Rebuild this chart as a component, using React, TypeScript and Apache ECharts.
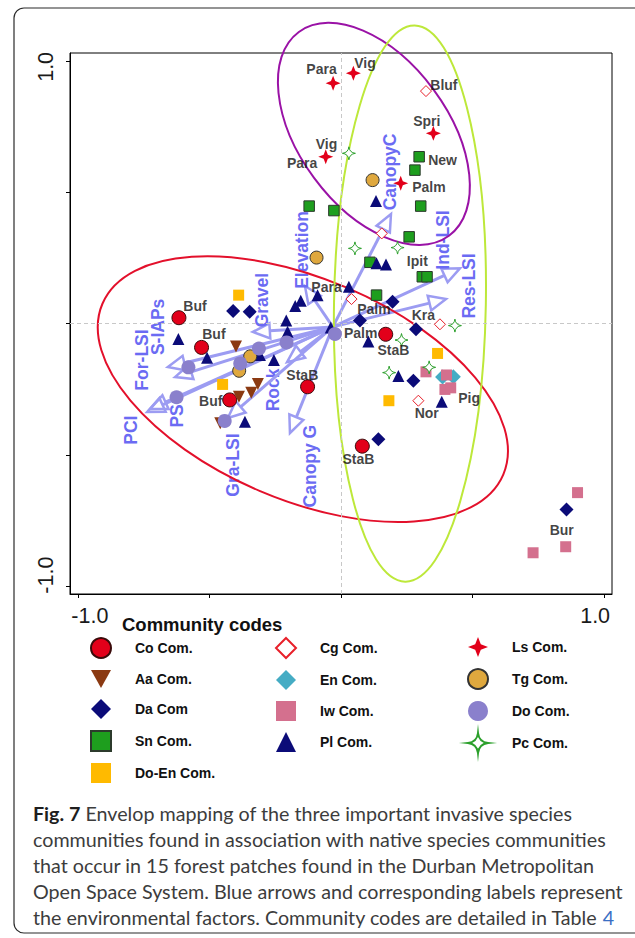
import React, { useEffect, useRef } from "react";
import * as echarts from "echarts";

// ---- Community sample scores (axis 1, axis 2) ----
const coCom = [[-0.616, 0.022], [-0.53, -0.091], [-0.423, -0.291], [-0.127, -0.241], [0.17, -0.041], [0.081, -0.467]];
const aaCom = [[-0.399, -0.088], [-0.316, -0.23], [-0.341, -0.264], [-0.388, -0.279], [-0.459, -0.38]];
const daCom = [[-0.41, 0.048], [-0.347, 0.045], [0.196, 0.083], [0.072, 0.011], [0.285, -0.022], [0.275, -0.218], [0.142, -0.441], [0.857, -0.708]];
const snCom = [[-0.121, 0.447], [-0.027, 0.43], [0.297, 0.635], [0.281, 0.584], [0.303, 0.447], [0.259, 0.33], [0.11, 0.233], [0.309, 0.178], [0.327, 0.178], [0.135, 0.108]];
const doEnCom = [[-0.389, 0.108], [-0.45, -0.232], [0.367, -0.114], [0.182, -0.294]];
const cgCom = [[0.323, 0.885], [0.155, 0.343], [0.04, 0.093], [0.376, -0.003], [0.294, -0.294]];
const enCom = [[0.386, -0.204], [0.427, -0.203]];
const iwCom = [[0.323, -0.184], [0.401, -0.196], [0.395, -0.251], [0.417, -0.245], [0.899, -0.644], [0.854, -0.85], [0.73, -0.873]];
const plCom = [[-0.618, -0.059], [-0.509, -0.13], [-0.308, -0.12], [-0.255, -0.139], [-0.208, 0.011], [-0.203, -0.031], [-0.153, 0.087], [-0.174, 0.067], [-0.089, 0.108], [-0.039, -0.015], [0.03, 0.14], [0.133, 0.466], [0.135, 0.229], [0.171, 0.225], [0.104, -0.069], [0.218, -0.2], [0.383, -0.298], [-0.365, -0.374]];
const lsCom = [[-0.03, 0.915], [0.047, 0.953], [-0.058, 0.635], [0.351, 0.724], [0.227, 0.534]];
const tgCom = [[0.12, 0.546], [-0.093, 0.251], [-0.345, -0.125], [-0.387, -0.18]];
const doCom = [[-0.023, -0.04], [-0.207, -0.072], [-0.312, -0.095], [-0.383, -0.152], [-0.58, -0.167], [-0.625, -0.281], [-0.442, -0.371]];
const pcCom = [[0.03, 0.648], [0.053, 0.286], [0.215, 0.289], [0.433, -0.008], [0.23, -0.063], [0.183, -0.187], [0.335, -0.167]];

// ---- Forest patch names written beside the samples ----
const siteNames = ["Para", "Vig", "Bluf", "Spri", "Vig", "Para", "New", "Palm", "Ipit", "Para", "Palm", "Palm", "Kra", "StaB", "Buf", "Buf", "Buf", "StaB", "Pig", "Nor", "StaB", "Bur"];
const siteX = [-0.074, 0.091, 0.391, 0.326, -0.055, -0.148, 0.386, 0.334, 0.29, -0.055, 0.125, 0.075, 0.313, 0.199, -0.555, -0.483, -0.495, -0.147, 0.487, 0.326, 0.066, 0.839];
const siteY = [0.969, 0.993, 0.908, 0.772, 0.683, 0.611, 0.623, 0.521, 0.239, 0.14, 0.054, -0.035, 0.032, -0.101, 0.067, -0.04, -0.294, -0.196, -0.285, -0.342, -0.517, -0.786];

// ---- Environmental vectors: tip and label anchor ----
const envOrigin = [-0.031, -0.013];
const envNames = ["CanopyC", "Ind-LSI", "Res-LSI", "Elevation", "Gravel", "S-IAPs", "For-LSI", "PCI", "PS", "Rock", "Gra-LSI", "Canopy G"];
const envTipX = [0.19, 0.452, 0.399, -0.137, -0.335, -0.658, -0.631, -0.737, -0.726, -0.205, -0.43, -0.194];
const envTipY = [0.417, 0.21, 0.093, 0.143, -0.032, -0.166, -0.204, -0.337, -0.326, -0.147, -0.36, -0.417];
const envLabelX = [0.186, 0.387, 0.486, -0.148, -0.3, -0.696, -0.756, -0.798, -0.623, -0.259, -0.411, -0.118];
const envLabelY = [0.577, 0.318, 0.143, 0.28, 0.089, -0.013, -0.139, -0.406, -0.352, -0.253, -0.539, -0.543];

// ---- Community envelopes: centre, semi-axes, tilt (deg) ----
const envelopeCx = [-0.145, 0.125, 0.262];
const envelopeCy = [-0.25, 0.722, 0.076];
const envelopeA = [0.828, 0.481, 1.057];
const envelopeB = [0.421, 0.283, 0.289];
const envelopeTilt = [-23.1, -53.6, 89];
const envelopeColors = ["#e3102b", "#9a12a6", "#bde83a"];

// ---- Axes ----
const tickValues = [-1, -0.5, 0, 0.5, 1];
const tickLabelValues = [-1, 1];

// ---- Legend columns ----
const legendColumns = [
  ["Co Com.", "Aa Com.", "Da Com", "Sn Com.", "Do-En Com."],
  ["Cg Com.", "En Com.", "Iw Com.", "Pl Com."],
  ["Ls Com.", "Tg Com.", "Do Com.", "Pc Com."],
];
const legendLeft = [90, 275, 467];

const captionLines = [
  "{b|Fig. 7} Envelop mapping of the three important invasive species",
  "communities found in association with native species communities",
  "that occur in 15 forest patches found in the Durban Metropolitan",
  "Open Space System. Blue arrows and corresponding labels represent",
  "the environmental factors. Community codes are detailed in Table {l|4}",
];

const ARIAL = '"Liberation Sans", Arial, sans-serif';
const CAPTION_FONT = 'Lato, "Open Sans", sans-serif';
const star4 = "path://M10 0 L12.8 7.2 L20 10 L12.8 12.8 L10 20 L7.2 12.8 L0 10 L7.2 7.2 Z";
const star4c = "path://M10 0 Q11 9 20 10 Q11 11 10 20 Q9 11 0 10 Q9 9 10 0 Z";
const downTri = "path://M0 0 L20 0 L10 18 Z";

const markerSpecs = [
  { name: "Co Com.", data: coCom, symbol: "circle", size: 14, color: "#e2001a", border: "#3a0a0a", bw: 1 },
  { name: "Aa Com.", data: aaCom, symbol: downTri, size: 12, color: "#8b3a12" },
  { name: "Da Com", data: daCom, symbol: "diamond", size: 14, color: "#0b0b78" },
  { name: "Sn Com.", data: snCom, symbol: "rect", size: 10.5, color: "#1e9e1e", border: "#2c3a2c", bw: 1 },
  { name: "Do-En Com.", data: doEnCom, symbol: "rect", size: 11, color: "#ffba00" },
  { name: "Cg Com.", data: cgCom, symbol: "diamond", size: 11, color: "#ffffff", border: "#e8202a", bw: 1 },
  { name: "En Com.", data: enCom, symbol: "diamond", size: 15, color: "#45acc4" },
  { name: "Iw Com.", data: iwCom, symbol: "rect", size: 11, color: "#d4708e" },
  { name: "Pl Com.", data: plCom, symbol: "triangle", size: 12, color: "#0b0b78" },
  { name: "Ls Com.", data: lsCom, symbol: star4, size: 15, color: "#e2001a" },
  { name: "Tg Com.", data: tgCom, symbol: "circle", size: 13, color: "#dfa83e", border: "#333333", bw: 1 },
  { name: "Do Com.", data: doCom, symbol: "circle", size: 14, color: "#8a80cc" },
  { name: "Pc Com.", data: pcCom, symbol: star4c, size: 13, color: "#ffffff", border: "#2ca02c", bw: 1 },
];

const ARROW = "#9c9cf2";
const ENV_TEXT = "#6b6bf3";
const GUIDE = "#c8c8c8";

export default function App() {
  const ref = useRef<HTMLDivElement>(null);

  useEffect(() => {
    if (!ref.current) return;
    const chart = echarts.init(ref.current, null, { renderer: "svg" });

    const scatterSeries = markerSpecs.map((m) => ({
      type: "scatter",
      name: m.name,
      data: m.data,
      symbol: m.symbol,
      symbolSize: m.size,
      z: 5,
      itemStyle: {
        color: m.color,
        borderColor: m.border || m.color,
        borderWidth: m.bw || 0,
        opacity: 1,
      },
    }));

    const option: any = {
      animation: false,
      backgroundColor: "#ffffff",
      grid: { left: 70, right: 23, top: 53, bottom: 344, show: true, borderColor: "#000", borderWidth: 1, backgroundColor: "transparent" },
      xAxis: {
        type: "value",
        min: -1.03,
        max: 1.03,
        splitLine: { show: false },
        axisLine: { show: true, onZero: false, lineStyle: { color: "#000", width: 1 } },
        axisTick: { show: true, customValues: tickValues, length: 4, lineStyle: { color: "#000" } },
        axisLabel: {
          customValues: tickLabelValues,
          margin: 11,
          formatter: (v: number) => (v < 0 ? `{l|${v.toFixed(1)}}` : `{r|${v.toFixed(1)}}`),
          rich: {
            l: { fontFamily: ARIAL, fontSize: 21.5, color: "#1a1a1a", padding: [0, 0, 0, 24] },
            r: { fontFamily: ARIAL, fontSize: 21.5, color: "#1a1a1a", padding: [0, 18, 0, 0] },
          },
        },
      },
      yAxis: {
        type: "value",
        min: -1.03,
        max: 1.03,
        splitLine: { show: false },
        axisLine: { show: true, onZero: false, lineStyle: { color: "#000", width: 1 } },
        axisTick: { show: true, customValues: tickValues, length: 4, lineStyle: { color: "#000" } },
        axisLabel: {
          customValues: tickLabelValues,
          rotate: 90,
          margin: 13,
          formatter: (v: number) => (v < 0 ? `{l|${v.toFixed(1)}}` : `{r|${v.toFixed(1)}}`),
          rich: {
            l: { fontFamily: ARIAL, fontSize: 21.5, color: "#1a1a1a", padding: [0, 0, 0, 22] },
            r: { fontFamily: ARIAL, fontSize: 21.5, color: "#1a1a1a", padding: [0, 12, 0, 0] },
          },
        },
      },
      legend: legendColumns.map((names, i) => ({
        data: names,
        orient: "vertical",
        left: legendLeft[i],
        top: 637,
        padding: 0,
        itemWidth: 20,
        itemHeight: 20,
        itemGap: 11,
        selectedMode: false,
        textStyle: { fontFamily: ARIAL, fontWeight: "bold", fontSize: 14, color: "#111", padding: [0, 0, 0, 19] },
      })),
      graphic: [
        {
          type: "rect",
          silent: true,
          shape: { x: 14, y: 8, width: 640, height: 925, r: 10 },
          style: { fill: "none", stroke: "#2b2b2b", lineWidth: 1.2 },
        },
        {
          type: "text",
          x: 122,
          y: 624,
          style: { text: "Community codes", font: `bold 18.5px ${ARIAL}`, fill: "#111", verticalAlign: "middle" },
        },
        ...captionLines.map((t, i) => ({
          type: "text",
          x: 33,
          y: 813 + i * 26.2,
          style: {
            text: t,
            font: `19.7px ${CAPTION_FONT}`,
            fill: "#3c3c3c",
            verticalAlign: "middle",
            rich: {
              b: { font: `bold 19.7px ${CAPTION_FONT}`, fill: "#1e1e1e" },
              l: { font: `19.7px ${CAPTION_FONT}`, fill: "#3a6fc4" },
            },
          },
        })),
      ],
      series: [
        {
          type: "scatter",
          name: "guides",
          data: [[0, 0]],
          symbolSize: 0,
          z: 1,
          itemStyle: { color: GUIDE },
          markLine: {
            silent: true,
            symbol: ["none", "none"],
            label: { show: false },
            lineStyle: { type: [4, 3], color: GUIDE, width: 1, opacity: 1 },
            emphasis: { disabled: true },
            data: [{ xAxis: 0 }, { yAxis: 0 }],
          },
        },
        {
          type: "custom",
          name: "vectors",
          z: 3,
          data: envNames.map((n, i) => [envTipX[i], envTipY[i], envLabelX[i], envLabelY[i]]),
          renderItem: (params: any, api: any) => {
            const o = api.coord(envOrigin);
            const t = api.coord([api.value(0), api.value(1)]);
            const l = api.coord([api.value(2), api.value(3)]);
            const dx = t[0] - o[0];
            const dy = t[1] - o[1];
            const len = Math.hypot(dx, dy);
            const ux = dx / len;
            const uy = dy / len;
            const hl = 17;
            const hw = 7.5;
            const bx = t[0] - ux * hl;
            const by = t[1] - uy * hl;
            const px = -uy;
            const py = ux;
            return {
              type: "group",
              children: [
                { type: "line", shape: { x1: o[0], y1: o[1], x2: bx, y2: by }, style: { stroke: ARROW, lineWidth: 3 } },
                {
                  type: "polygon",
                  shape: { points: [[t[0], t[1]], [bx + px * hw, by + py * hw], [bx - px * hw, by - py * hw]] },
                  style: { fill: "none", stroke: ARROW, lineWidth: 2.5, lineJoin: "miter" },
                },
                {
                  type: "text",
                  x: l[0],
                  y: l[1],
                  rotation: Math.PI / 2,
                  style: { text: envNames[params.dataIndex], font: `bold 17.5px ${ARIAL}`, fill: ENV_TEXT, align: "center", verticalAlign: "middle" },
                },
              ],
            };
          },
        },
        {
          type: "custom",
          name: "envelopes",
          z: 4,
          data: envelopeCx.map((c, i) => [c, envelopeCy[i], envelopeA[i], envelopeB[i], envelopeTilt[i]]),
          renderItem: (params: any, api: any) => {
            const c = api.coord([api.value(0), api.value(1)]);
            const s = api.size([api.value(2), api.value(3)]);
            return {
              type: "ellipse",
              x: c[0],
              y: c[1],
              rotation: (api.value(4) * Math.PI) / 180,
              shape: { cx: 0, cy: 0, rx: s[0], ry: s[1] },
              style: { fill: "none", stroke: envelopeColors[params.dataIndex], lineWidth: 2 },
            };
          },
        },
        ...scatterSeries,
        {
          type: "scatter",
          name: "sites",
          z: 6,
          symbolSize: 1,
          itemStyle: { color: "rgba(0,0,0,0)" },
          data: siteNames.map((n, i) => ({ name: n, value: [siteX[i], siteY[i]] })),
          label: {
            show: true,
            position: "inside",
            formatter: "{b}",
            fontFamily: ARIAL,
            fontWeight: "bold",
            fontSize: 14,
            color: "#111",
          },
        },
      ],
    };

    chart.setOption(option);
    return () => chart.dispose();
  }, []);

  return (
    <div
      ref={ref}
      style={{ position: "absolute", left: 0, top: 0, width: 635, height: 938, background: "#fff" }}
    />
  );
}
